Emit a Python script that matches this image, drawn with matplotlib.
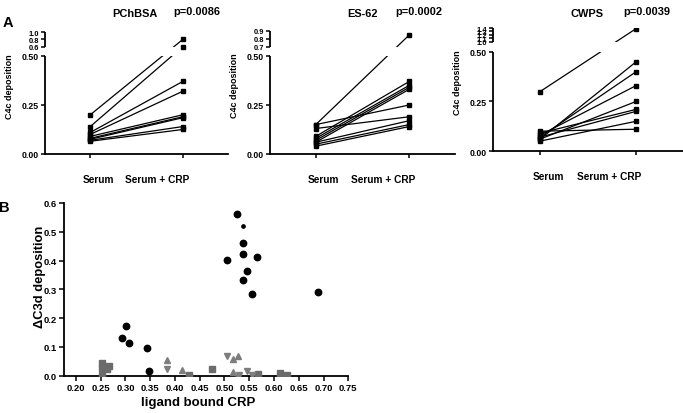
#
# Paired C4c deposition (broken y axes) and C3d deposition vs ligand bound CRP
#

### Needed libraries ###

import numpy as np
import matplotlib
matplotlib.use('Agg')
import matplotlib.pyplot as plt
from matplotlib.ticker import FormatStrFormatter


### Data ###

# Panel A: C4c deposition, one line per donor
groups = ['Serum', 'Serum + CRP']

pchbsa_serum = [0.20, 0.14, 0.11, 0.10, 0.09, 0.08, 0.075, 0.07, 0.065]
pchbsa_crp = [0.80, 0.61, 0.37, 0.32, 0.20, 0.19, 0.185, 0.14, 0.125]

es62_serum = [0.15, 0.15, 0.13, 0.09, 0.08, 0.07, 0.06, 0.06, 0.05, 0.04]
es62_crp = [0.85, 0.25, 0.19, 0.37, 0.35, 0.34, 0.33, 0.17, 0.15, 0.14]

cwps_serum = [0.30, 0.06, 0.07, 0.08, 0.06, 0.09, 0.07, 0.05, 0.10]
cwps_crp = [1.38, 0.45, 0.40, 0.33, 0.25, 0.21, 0.20, 0.15, 0.11]

panel_titles = ['PChBSA', 'ES-62', 'CWPS']
p_values = ['p=0.0086', 'p=0.0002', 'p=0.0039']

# Panel B: delta C3d deposition vs ligand bound CRP
circle_x = [0.526, 0.537, 0.537, 0.506, 0.566, 0.546, 0.537, 0.556, 0.688,
            0.302, 0.293, 0.308, 0.343, 0.348]
circle_y = [0.562, 0.461, 0.422, 0.402, 0.412, 0.363, 0.332, 0.283, 0.292,
            0.171, 0.132, 0.114, 0.096, 0.017]
small_circle_x = [0.537]
small_circle_y = [0.521]

square_x = [0.252, 0.253, 0.263, 0.267, 0.252, 0.429, 0.475, 0.567, 0.613, 0.627]
square_y = [0.045, 0.028, 0.023, 0.034, 0.001, 0.002, 0.023, 0.007, 0.009, 0.002]

up_x = [0.383, 0.415, 0.517, 0.527, 0.518, 0.527]
up_y = [0.056, 0.021, 0.059, 0.069, 0.012, 0.002]

down_x = [0.383, 0.506, 0.546, 0.556, 0.530]
down_y = [0.024, 0.069, 0.017, 0.002, 0.001]


### Figure ###

plt.rcParams['font.family'] = ['Liberation Sans', 'DejaVu Sans']
plt.rcParams['font.weight'] = 'bold'

W, H = 683, 414
fig = plt.figure(figsize=(W / 100, H / 100), dpi=100)


def px_rect(left, right, bottom, top):
    # pixel box -> figure fraction rect
    return [left / W, 1 - bottom / H, (right - left) / W, (bottom - top) / H]


### Paired panel with a broken y axis ###

def paired_panel(rect, serum, crp, up_lo, up_hi, gap, seg, up_ticks, up_labels):

    ax = fig.add_axes(rect)
    low_top = 0.5

    # piecewise linear scale: lower part, gap, squeezed upper part
    k_in = [-10, 0, low_top, up_lo, up_hi, up_hi + 10]
    k_out = [-10, 0, low_top, low_top + gap, low_top + gap + seg,
             low_top + gap + seg + 10 * seg / (up_hi - up_lo)]
    ax.set_yscale('function', functions=(lambda y: np.interp(y, k_in, k_out),
                                         lambda y: np.interp(y, k_out, k_in)))

    for s, c in zip(serum, crp):
        ax.plot([0, 1], [s, c], color='black', lw=0.9, zorder=2)
    ax.plot(np.zeros(len(serum)), serum, 's', color='black', ms=3.3, zorder=4)
    ax.plot(np.ones(len(crp)), crp, 's', color='black', ms=3.3, zorder=4)

    # blank the break
    ax.axhspan(low_top, up_lo, color='white', lw=0, zorder=3)

    ax.set_xlim(-0.49, 1.49)
    ax.set_ylim(0, up_hi)

    for side in ['top', 'right']:
        ax.spines[side].set_visible(False)
    for side in ['left', 'bottom']:
        ax.spines[side].set_linewidth(1.3)
    ax.spines['left'].set_bounds(0, low_top)
    ax.plot([0, 0], [up_lo, up_hi], transform=ax.get_yaxis_transform(),
            color='black', lw=1.3, clip_on=False, solid_capstyle='butt')

    ax.set_yticks([0, 0.25, 0.5] + up_ticks)
    ax.set_yticklabels(['0.00', '0.25', '0.50'] + up_labels)
    ax.set_xticks([0, 1])
    ax.set_xticklabels([])
    ax.tick_params(direction='out', length=3, width=1.1, labelsize=6.3, pad=1.5)

    # the squeezed upper labels are a bit smaller
    for lab in ax.get_yticklabels()[3:]:
        lab.set_fontsize(5.4)

    # group labels under the axis
    for x, name in zip([0.086, 0.72], groups):
        ax.annotate(name, xy=(x, 0), xycoords=('data', 'axes fraction'),
                    xytext=(0, -25), textcoords='offset pixels',
                    ha='center', va='center', fontsize=7.3, fontweight='bold')

    ax.set_ylabel('C4c deposition', fontsize=6.5, fontweight='bold')
    ax.yaxis.set_label_coords(-31 / (rect[2] * W), 0.56)
    return ax


paired_panel(px_rect(45, 228, 155, 33), pchbsa_serum, pchbsa_crp,
             0.6, 1.0, 0.0459, 0.0765, [0.6, 0.8, 1.0], ['0.6', '0.8', '1.0'])
paired_panel(px_rect(270, 455, 155, 32), es62_serum, es62_crp,
             0.7, 0.9, 0.0459, 0.0816, [0.7, 0.8, 0.9], ['0.7', '0.8', '0.9'])
paired_panel(px_rect(493, 683, 152, 29), cwps_serum, cwps_crp,
             1.0, 1.4, 0.0505, 0.0707, [1.0, 1.1, 1.2, 1.3, 1.4],
             ['1.0', '1.1', '1.2', '1.3', '1.4'])

# titles and p values
for name, p, tx, px in zip(panel_titles, p_values, [135, 363, 587], [197, 419, 647]):
    fig.text(tx / W, 1 - 14 / H, name, ha='center', va='center', fontsize=7.9)
    fig.text(px / W, 1 - 12 / H, p, ha='center', va='center', fontsize=7.9)

fig.text(7.5 / W, 1 - 23 / H, 'A', ha='center', va='center', fontsize=10.5)
fig.text(4 / W, 1 - 208 / H, 'B', ha='center', va='center', fontsize=10.5)


### Panel B scatter ###

rect_b = px_rect(64, 348.3, 376.7, 204)
axb = fig.add_axes(rect_b)

axb.plot(square_x, square_y, 's', color='#6b6b6b', ms=4.3, zorder=3)
axb.plot(up_x, up_y, '^', color='#7d7d7d', ms=4.8, zorder=3)
axb.plot(down_x, down_y, 'v', color='#7d7d7d', ms=4.8, zorder=3)
axb.plot(circle_x, circle_y, 'o', color='black', ms=4.6, zorder=4)
axb.plot(small_circle_x, small_circle_y, 'o', color='black', ms=2.4, zorder=4)

axb.set_xlim(0.176, 0.75)
axb.set_ylim(0, 0.6)
axb.set_xticks(np.arange(0.20, 0.751, 0.05))
axb.set_yticks(np.arange(0.0, 0.61, 0.1))
axb.xaxis.set_major_formatter(FormatStrFormatter('%.2f'))
axb.yaxis.set_major_formatter(FormatStrFormatter('%.1f'))
axb.tick_params(direction='out', length=3.5, width=1.1, labelsize=6.8, pad=1.5)

for side in ['top', 'right']:
    axb.spines[side].set_visible(False)
for side in ['left', 'bottom']:
    axb.spines[side].set_linewidth(1.3)
axb.spines['bottom'].set_bounds(0.176, 0.75)

axb.set_xlabel('ligand bound CRP', fontsize=9.5, fontweight='bold')
axb.xaxis.set_label_coords(0.472, -0.118)
axb.set_ylabel('\u0394C3d deposition', fontsize=9.3, fontweight='bold')
axb.yaxis.set_label_coords(-0.064, 0.577)

plt.savefig('out.png', dpi=100)
